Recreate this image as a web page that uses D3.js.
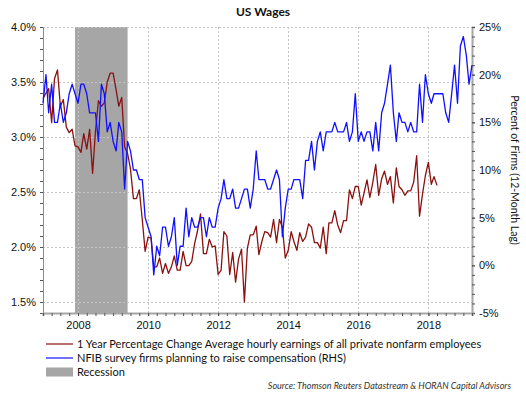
<!DOCTYPE html>
<html>
<head>
<meta charset="utf-8">
<script src="https://cdn.jsdelivr.net/npm/d3@7/dist/d3.min.js"></script>
<style>
  body { margin: 0; background: #fff; }
  svg { display: block; font-family: Lato, "Open Sans", sans-serif; }
  .grid line { stroke: #c4c4c4; stroke-dasharray: 2,2; shape-rendering: crispEdges; }
  .grid .domain { display: none; }
  .axis text { font-size: 11px; fill: #111; }
  .axis line { stroke: #555; }
  .title { font-size: 12px; font-weight: bold; fill: #111; }
  .legend-text { font-size: 11px; fill: #111; }
  .axis-title { font-size: 10.5px; fill: #111; }
  .source { font-size: 9px; font-style: italic; fill: #333; }
</style>
</head>
<body>
<svg id="chart" width="526" height="394"></svg>
<script>
// monthly series, first value = Jan 2007
const startMonth = new Date(2007, 0, 1);

// 1 year % change, average hourly earnings (left axis), Jan 2007 - Apr 2018
const wageGrowth = [
  3.35, 3.40, 3.44, 3.13, 3.53, 3.61, 3.28, 3.34, 3.09, 3.04, 3.07, 2.92,
  2.91, 2.86, 3.03, 2.89, 3.07, 2.67, 3.05, 3.33, 3.28, 3.31, 3.50, 3.58,
  3.58, 3.43, 3.28, 3.36, 2.91, 2.85, 2.71, 2.44, 2.44, 2.52, 2.25, 1.96,
  2.09, 2.08, 1.82, 1.82, 1.90, 1.76, 1.85, 1.76, 1.82, 1.92, 1.79, 1.79,
  1.96, 1.83, 1.83, 1.87, 2.03, 2.15, 2.30, 1.94, 1.94, 2.07, 2.00, 2.01,
  1.75, 1.79, 2.14, 2.10, 1.75, 1.95, 1.68, 1.89, 1.98, 1.50, 1.99, 2.11,
  2.11, 2.19, 1.93, 2.05, 2.14, 2.13, 2.09, 2.25, 2.04, 2.25, 2.18, 1.90,
  1.97, 2.14, 2.05, 1.97, 2.13, 2.05, 2.09, 2.21, 2.18, 2.04, 2.04, 1.99,
  2.18, 1.94, 2.22, 2.22, 2.33, 2.20, 2.13, 2.24, 2.24, 2.52, 2.44, 2.55,
  2.55, 2.38, 2.49, 2.61, 2.45, 2.59, 2.75, 2.47, 2.62, 2.69, 2.57, 2.64,
  2.40, 2.72, 2.55, 2.52, 2.47, 2.51, 2.51, 2.59, 2.83, 2.28, 2.48, 2.65,
  2.77, 2.57, 2.64, 2.56
];

// NFIB % of firms planning to raise compensation, 12-month lag (right axis), Jan 2007 - Apr 2019
const nfibPlans = [
  17, 20, 16, 19, 15, 15, 17, 15, 16, 18, 19, 18,
  17, 19, 19, 18, 16, 16, 16, 13, 19, 18, 14, 15,
  13, 12, 15, 14, 8, 13, 12, 10, 10, 9, 9, 5,
  4, 3, -1, 2, 1, 4, 4, 2, 3, 5, 0, 2,
  2, 6, 3, 5, 4, 4, 5, 5, 3, 5, 4, 4,
  6, 7, 9, 7, 7, 8, 6, 6, 7, 8, 8, 6,
  8, 12, 9, 9, 9, 8, 8, 9, 10, 9, 3, 6,
  8, 8, 9, 9, 9, 7, 11, 11, 13, 10, 13, 14,
  12, 14, 14, 14, 15, 14, 14, 14, 15, 13, 14, 18,
  13, 14, 13, 14, 14, 12, 15, 12, 16, 17, 19, 21,
  16, 13, 16, 15, 15, 14, 15, 14, 14, 19, 15, 20,
  18, 17, 18, 18, 18, 18, 16, 15, 18, 21, 17, 23,
  24, 22, 19, 21
];

const leftTicks = [1.5, 2.0, 2.5, 3.0, 3.5, 4.0];
const rightTicks = [-5, 0, 5, 10, 15, 20, 25];
const yearTicks = [2008, 2010, 2012, 2014, 2016, 2018];
const recession = [new Date(2007, 11, 1), new Date(2009, 5, 1)];

const legendLabels = [
  "1 Year Percentage Change Average hourly earnings of all private nonfarm employees",
  "NFIB survey firms planning to raise compensation (RHS)",
  "Recession"
];

const svg = d3.select("#chart");
const margin = { top: 27, right: 54, bottom: 81, left: 43 };
const W = 526, H = 394;
const innerW = W - margin.left - margin.right;
const innerH = H - margin.top - margin.bottom;

const x = d3.scaleTime()
  .domain([startMonth, new Date(2019, 3, 1)])
  .range([0, innerW]);
const yL = d3.scaleLinear().domain([1.4, 4.0]).range([innerH, 0]);
const yR = d3.scaleLinear().domain([-5, 25]).range([innerH, 0]);

const toPoints = arr => arr.map((v, i) => ({ date: d3.timeMonth.offset(startMonth, i), value: v }));
const wagePts = toPoints(wageGrowth);
const nfibPts = toPoints(nfibPlans);

const g = svg.append("g").attr("transform", `translate(${margin.left},${margin.top})`);

// title
svg.append("text")
  .attr("class", "title")
  .attr("x", 263).attr("y", 16)
  .attr("text-anchor", "middle")
  .text("US Wages");

// recession shading
g.append("rect")
  .attr("x", x(recession[0]))
  .attr("y", 0)
  .attr("width", x(recession[1]) - x(recession[0]))
  .attr("height", innerH)
  .attr("fill", "#a6a6a6");

// grid
g.append("g").attr("class", "grid")
  .call(d3.axisLeft(yL).tickValues(leftTicks).tickSize(-innerW).tickFormat(""));
g.append("g").attr("class", "grid")
  .attr("transform", `translate(0,${innerH})`)
  .call(d3.axisBottom(x).tickValues(yearTicks.map(yr => new Date(yr, 0, 1))).tickSize(innerH).tickFormat(""))
  .call(s => s.selectAll("line").attr("y2", -innerH));

// axes: minor ticks
const leftMinor = d3.range(14, 41).map(d => d / 10);
const rightMinor = d3.range(-5, 26);
const quarterMinor = d3.timeMonth.every(3).range(startMonth, new Date(2019, 4, 1));

g.append("g").attr("class", "axis")
  .call(d3.axisLeft(yL).tickValues(leftMinor).tickSize(3).tickFormat(""))
  .call(s => s.select(".domain").attr("stroke", "#8c8c8c"));
g.append("g").attr("class", "axis")
  .call(d3.axisLeft(yL).tickValues(leftTicks).tickSize(3).tickPadding(4).tickFormat(d => d.toFixed(1) + "%"))
  .call(s => s.select(".domain").remove());

g.append("g").attr("class", "axis")
  .attr("transform", `translate(${innerW},0)`)
  .call(d3.axisRight(yR).tickValues(rightMinor).tickSize(3).tickFormat(""))
  .call(s => s.select(".domain").attr("stroke", "#a6a6a6").attr("stroke-width", 2));
g.append("g").attr("class", "axis")
  .attr("transform", `translate(${innerW},0)`)
  .call(d3.axisRight(yR).tickValues(rightTicks).tickSize(3).tickPadding(4).tickFormat(d => d + "%"))
  .call(s => s.select(".domain").remove());

g.append("g").attr("class", "axis")
  .attr("transform", `translate(0,${innerH})`)
  .call(d3.axisBottom(x).tickValues(quarterMinor).tickSize(3).tickFormat(""))
  .call(s => s.select(".domain").attr("stroke", "#a6a6a6").attr("stroke-width", 2));
g.append("g").attr("class", "axis")
  .attr("transform", `translate(0,${innerH})`)
  .call(d3.axisBottom(x).tickValues(yearTicks.map(yr => new Date(yr, 0, 1))).tickSize(3).tickPadding(5).tickFormat(d3.timeFormat("%Y")))
  .call(s => s.select(".domain").remove());

// right axis title
svg.append("text")
  .attr("class", "axis-title")
  .attr("transform", `translate(511,${margin.top + innerH / 2}) rotate(90)`)
  .attr("text-anchor", "middle")
  .text("Percent of Firms (12-Month Lag)");

// series
g.append("path")
  .datum(wagePts)
  .attr("fill", "none")
  .attr("stroke", "#8b1010")
  .attr("stroke-width", 1.3)
  .attr("stroke-linejoin", "round")
  .attr("d", d3.line().x(d => x(d.date)).y(d => yL(d.value)));

g.append("path")
  .datum(nfibPts)
  .attr("fill", "none")
  .attr("stroke", "#1010ff")
  .attr("stroke-width", 1.3)
  .attr("stroke-linejoin", "round")
  .attr("d", d3.line().x(d => x(d.date)).y(d => yR(d.value)));

// legend
const legend = svg.append("g").attr("transform", "translate(46,344)");
const legendColors = ["#8b1010", "#1010ff", "#a6a6a6"];
legendLabels.forEach((label, i) => {
  const row = legend.append("g").attr("transform", `translate(0,${i * 14})`);
  if (i < 2) {
    row.append("line").attr("x1", 0).attr("x2", 27).attr("y1", 0).attr("y2", 0)
      .attr("stroke", legendColors[i]).attr("stroke-width", 1.2);
  } else {
    row.append("rect").attr("x", 0).attr("y", -4.5).attr("width", 27).attr("height", 9)
      .attr("fill", legendColors[i]);
  }
  row.append("text").attr("class", "legend-text")
    .attr("x", 31).attr("y", 4)
    .text(label);
});

// source
svg.append("text")
  .attr("class", "source")
  .attr("x", 511).attr("y", 389)
  .attr("text-anchor", "end")
  .text("Source: Thomson Reuters Datastream & HORAN Capital Advisors");
</script>
</body>
</html>
